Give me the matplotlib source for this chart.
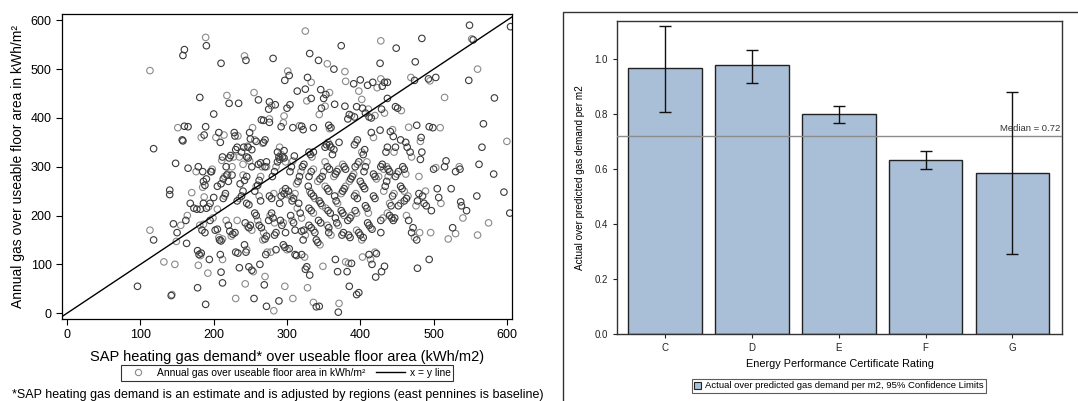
import numpy as np
import matplotlib
matplotlib.use("Agg")
import matplotlib.pyplot as plt
from matplotlib.lines import Line2D
from matplotlib.patches import Rectangle

plt.rcParams["font.family"] = ["Liberation Sans", "DejaVu Sans"]

# left panel: SAP predicted vs actual gas demand (kWh/m2)
sap_pts = [
    (113, 497), (160, 540), (158, 528), (189, 565), (190, 548), (210, 512), (242, 527), (244, 518),
    (281, 522), (325, 578), (343, 518), (331, 532), (355, 511), (374, 548), (297, 477), (301, 496),
    (303, 487), (364, 500), (379, 495), (325, 459), (328, 483), (333, 473), (346, 458), (353, 448),
    (358, 452), (391, 470), (400, 478), (398, 455), (410, 467), (417, 473), (428, 480), (433, 473),
    (430, 465), (423, 462), (437, 473), (427, 512), (428, 558), (449, 543), (475, 515), (469, 483),
    (484, 563), (493, 480), (495, 476), (503, 483), (549, 590), (552, 562), (554, 560), (548, 477),
    (560, 500), (605, 587), (583, 441), (515, 442), (474, 477),
    (181, 442), (218, 446), (221, 430), (234, 430), (255, 452), (261, 437), (249, 370), (253, 380),
    (265, 396), (276, 433), (279, 425), (284, 427), (275, 418), (276, 398), (276, 391), (292, 382),
    (296, 404), (300, 420), (304, 427), (295, 390), (314, 455), (308, 380), (317, 384), (322, 376),
    (320, 383), (327, 435), (333, 440), (336, 380), (344, 407), (347, 420), (350, 440), (352, 424),
    (357, 385), (360, 380), (358, 378), (365, 428), (379, 424), (380, 475), (383, 398), (385, 407),
    (388, 405), (392, 402), (395, 423), (402, 438), (403, 420), (407, 410), (411, 418), (412, 402),
    (415, 400), (420, 405), (427, 375), (429, 418), (433, 410), (437, 440), (441, 372), (444, 376),
    (445, 362), (451, 420), (456, 415), (455, 355), (448, 423), (466, 381), (477, 385), (483, 360),
    (482, 352), (494, 382), (499, 380), (509, 380), (568, 388), (165, 382), (151, 380), (160, 383),
    (189, 382), (183, 360), (187, 365), (200, 408), (203, 360), (207, 370), (209, 350), (214, 365),
    (228, 370), (229, 363), (233, 363), (241, 340), (238, 330), (246, 342), (250, 357), (258, 352),
    (267, 348), (268, 395), (287, 330), (290, 340), (296, 333),
    (96, 55), (113, 170), (118, 150), (118, 337), (132, 105), (140, 252), (140, 243), (143, 38),
    (142, 36), (145, 183), (147, 100), (148, 307), (150, 165), (149, 147), (157, 355), (158, 353),
    (155, 180), (163, 143), (165, 297), (164, 200), (162, 190), (168, 225), (170, 247), (173, 215),
    (177, 213), (176, 290), (179, 300), (182, 213), (181, 180), (178, 128), (180, 120), (182, 118),
    (183, 123), (178, 52), (179, 98), (185, 290), (186, 270), (185, 258), (188, 262), (190, 275),
    (187, 238), (186, 225), (190, 215), (193, 218), (195, 225), (184, 170), (186, 182), (188, 165),
    (189, 18), (192, 82), (194, 110), (195, 190), (199, 195), (200, 237), (197, 290), (205, 213),
    (202, 170), (205, 172), (207, 155), (208, 150), (210, 148), (212, 152), (210, 265), (213, 275),
    (215, 280), (218, 283), (220, 270), (211, 313), (212, 320), (213, 235), (215, 240), (216, 245),
    (209, 120), (212, 110), (210, 84), (212, 62), (217, 190), (220, 180), (222, 168), (224, 158),
    (226, 162), (229, 165), (227, 320), (225, 283), (232, 230), (235, 235), (238, 240), (240, 250),
    (232, 190), (230, 125), (233, 123), (230, 30), (235, 93), (236, 265), (240, 283), (242, 272),
    (245, 280), (240, 305), (245, 320), (247, 318), (249, 312), (252, 300), (243, 185), (246, 178),
    (248, 175), (250, 180), (252, 170), (245, 225), (248, 222), (245, 130), (244, 125), (242, 140),
    (243, 60), (248, 95), (252, 88), (254, 85), (255, 30), (256, 250), (258, 260), (260, 262),
    (262, 272), (264, 280), (256, 205), (258, 200), (260, 190), (262, 180), (265, 175), (268, 165),
    (261, 305), (264, 308), (266, 300), (270, 300), (272, 310), (262, 240), (264, 230), (263, 100),
    (267, 150), (270, 152), (272, 158), (270, 75), (269, 58), (271, 120), (273, 125), (272, 14),
    (275, 190), (277, 200), (279, 205), (281, 195), (283, 185), (276, 240), (279, 235), (282, 245),
    (280, 280), (283, 290), (285, 300), (287, 310), (289, 320), (278, 125), (283, 160), (285, 165),
    (282, 5), (285, 130), (290, 315), (292, 325), (294, 320), (296, 318), (298, 310), (290, 225),
    (292, 240), (294, 250), (296, 245), (298, 255), (300, 243), (291, 190), (293, 180), (295, 185),
    (298, 165), (289, 25), (297, 55), (295, 140), (297, 135), (300, 130), (303, 132), (302, 250),
    (305, 240), (307, 230), (309, 235), (311, 245), (304, 290), (306, 300), (308, 312), (310, 322),
    (305, 200), (307, 190), (309, 185), (311, 170), (308, 30), (311, 120), (313, 118), (313, 265),
    (315, 270), (317, 280), (319, 290), (321, 300), (323, 305), (314, 215), (316, 225), (318, 205),
    (320, 195), (320, 168), (323, 170), (325, 160), (322, 150), (320, 120), (324, 115), (325, 90),
    (327, 95), (328, 52), (330, 330), (332, 325), (334, 320), (336, 330), (329, 260), (331, 250),
    (333, 245), (336, 240), (338, 235), (330, 280), (333, 290), (336, 295), (330, 215), (333, 210),
    (336, 205), (330, 180), (333, 175), (336, 170), (338, 165), (331, 78), (336, 22), (340, 150),
    (342, 145), (345, 140), (340, 13), (344, 14), (342, 270), (345, 275), (348, 280), (350, 290),
    (344, 230), (346, 225), (348, 220), (343, 190), (346, 185), (349, 96), (352, 340), (354, 345),
    (356, 350), (358, 345), (360, 340), (352, 310), (355, 300), (358, 295), (352, 260), (355, 255),
    (357, 250), (353, 215), (356, 210), (359, 205), (355, 180), (357, 175), (357, 165), (360, 160),
    (362, 325), (364, 335), (364, 280), (366, 285), (368, 290), (370, 295), (365, 240), (367, 230),
    (369, 225), (366, 195), (368, 185), (370, 180), (366, 110), (369, 85), (371, 20), (370, 2),
    (371, 350), (374, 245), (376, 250), (378, 255), (380, 260), (374, 210), (376, 205), (378, 200),
    (375, 160), (377, 165), (376, 305), (378, 300), (380, 295), (380, 105), (382, 85), (385, 55),
    (385, 270), (387, 275), (389, 280), (391, 285), (383, 190), (386, 195), (388, 200), (384, 160),
    (386, 155), (384, 102), (388, 102), (392, 345), (394, 350), (396, 355), (392, 240), (394, 245),
    (396, 235), (393, 300), (396, 305), (398, 310), (393, 210), (395, 205), (395, 38), (398, 42),
    (395, 170), (398, 165), (400, 160), (402, 150), (404, 155), (400, 270), (402, 265), (404, 260),
    (406, 255), (402, 330), (404, 325), (406, 335), (403, 115), (405, 290), (407, 300), (409, 310),
    (407, 220), (409, 215), (411, 205), (410, 185), (412, 180), (414, 175), (416, 172), (412, 120),
    (414, 110), (416, 100), (415, 370), (418, 360), (418, 285), (420, 280), (422, 275), (418, 240),
    (420, 235), (420, 125), (422, 122), (421, 74), (425, 280), (428, 300), (430, 305), (432, 295),
    (428, 165), (428, 190), (431, 195), (429, 85), (433, 96), (432, 250), (434, 260), (436, 270),
    (438, 280), (435, 330), (437, 340), (436, 300), (438, 295), (440, 290), (437, 205), (440, 200),
    (443, 195), (440, 225), (442, 220), (444, 240), (446, 245), (445, 190), (447, 195), (446, 330),
    (448, 340), (448, 280), (450, 285), (452, 290), (452, 220), (455, 225), (455, 260), (457, 255),
    (460, 250), (458, 300), (460, 295), (462, 285), (460, 230), (463, 235), (465, 240), (462, 350),
    (464, 340), (463, 200), (466, 190), (468, 330), (470, 320), (470, 165), (472, 175), (474, 155),
    (477, 150), (478, 92), (476, 220), (478, 230), (480, 245), (480, 280), (482, 315), (484, 330),
    (481, 165), (485, 240), (487, 225), (489, 250), (490, 220), (494, 110), (496, 165), (497, 210),
    (500, 295), (503, 298), (505, 255), (507, 237), (510, 225), (517, 312), (515, 300), (520, 152),
    (524, 255), (526, 175), (530, 163), (530, 290), (536, 295), (535, 300), (537, 228), (538, 220),
    (540, 195), (545, 210), (559, 240), (560, 160), (562, 305), (566, 340), (575, 185), (582, 285),
    (596, 248), (600, 352), (604, 205),
    (196, 290), (198, 295), (205, 260), (217, 300), (219, 285), (221, 318), (223, 323), (225, 300),
    (230, 335), (232, 340), (235, 320), (247, 340), (252, 335), (256, 355), (268, 350), (270, 355),
    (272, 300),
]
sap_x = [p[0] for p in sap_pts]
actual_y = [p[1] for p in sap_pts]

# right panel: ratio by EPC rating
ratings = ["C", "D", "E", "F", "G"]
ratio = [0.97, 0.98, 0.80, 0.635, 0.585]
ci_low = [0.81, 0.915, 0.77, 0.60, 0.29]
ci_high = [1.12, 1.035, 0.83, 0.665, 0.88]
median_ratio = 0.72

W, H = 1078, 401
fig = plt.figure(figsize=(W / 100, H / 100), dpi=100)

# ---- left scatter ----
ax = fig.add_axes([62 / W, 1 - 319 / H, 450 / W, 305 / H])
xs = np.array(sap_x)
ys = np.array(actual_y)
dark = np.arange(len(xs)) % 3 != 0
ax.scatter(xs[~dark], ys[~dark], s=22, facecolors="none", edgecolors="#8a8a8a", linewidths=0.8)
ax.scatter(xs[dark], ys[dark], s=22, facecolors="none", edgecolors="#3a3a3a", linewidths=0.8)
ax.plot([-20, 620], [-20, 620], color="black", lw=1.0)
ax.set_xlim(-7, 607)
ax.set_ylim(-12, 613)
ax.set_xticks(range(0, 601, 100))
ax.set_yticks(range(0, 601, 100))
ax.tick_params(labelsize=9, length=4, width=0.8)
for s in ax.spines.values():
    s.set_linewidth(0.9)
ax.set_xlabel("SAP heating gas demand* over useable floor area (kWh/m2)", fontsize=10.5, labelpad=6)
ax.set_ylabel("Annual gas over useable floor area in kWh/m²", fontsize=10, labelpad=4)

handles = [
    Line2D([], [], marker="o", ls="none", mfc="none", mec="#8a8a8a", ms=4.5, mew=0.8),
    Line2D([], [], color="black", lw=1.0),
]
leg = fig.legend(handles, ["Annual gas over useable floor area in kWh/m²", "x = y line"],
                 loc="center", bbox_to_anchor=(287 / W, 1 - 373 / H), ncol=2, fontsize=7.4,
                 frameon=True, fancybox=False, edgecolor="black", handlelength=2.8,
                 handletextpad=0.5, columnspacing=1.0, borderpad=0.25, borderaxespad=0.2)
leg.get_frame().set_linewidth(0.8)

fig.text(12 / W, 1 - 395 / H,
         "*SAP heating gas demand is an estimate and is adjusted by regions (east pennines is baseline)",
         fontsize=9.0, ha="left", va="center")

# ---- right bar chart ----
fig.add_artist(Rectangle((563 / W, -0.01), 0.5, 1 - 12 / H + 0.01, transform=fig.transFigure,
                         fill=False, edgecolor="#333333", lw=1.0))
bx = fig.add_axes([617 / W, 1 - 334 / H, 445 / W, 313 / H])
pos = np.arange(len(ratings))
bx.bar(pos, ratio, width=0.85, color="#a9bed7", edgecolor="#222222", linewidth=1.0, zorder=2)
bx.axhline(median_ratio, color="#8c8c8c", lw=1.0, zorder=3)
err = [np.array(ratio) - np.array(ci_low), np.array(ci_high) - np.array(ratio)]
bx.errorbar(pos, ratio, yerr=err, fmt="none", ecolor="#111111", elinewidth=1.0,
            capsize=4, capthick=1.0, zorder=4)
bx.text(4.55, median_ratio + 0.012, "Median = 0.72", ha="right", va="bottom", fontsize=6.8,
        color="#333333", zorder=5)
bx.set_xlim(-0.55, 4.57)
bx.set_ylim(0, 1.14)
bx.set_yticks([0, 0.2, 0.4, 0.6, 0.8, 1.0])
bx.set_yticklabels(["0.0", "0.2", "0.4", "0.6", "0.8", "1.0"])
bx.set_xticks(pos)
bx.set_xticklabels(ratings)
bx.tick_params(labelsize=7, length=3, width=0.8, colors="#222222")
for s in bx.spines.values():
    s.set_linewidth(1.0)
    s.set_color("#333333")
bx.set_xlabel("Energy Performance Certificate Rating", fontsize=7.8, labelpad=4)
bx.set_ylabel("Actual over predicted gas demand per m2", fontsize=7.2, labelpad=7)

bh = [Rectangle((0, 0), 1, 1, facecolor="#a9bed7", edgecolor="#222222", lw=0.8)]
leg2 = fig.legend(bh, ["Actual over predicted gas demand per m2, 95% Confidence Limits"],
                  loc="center", bbox_to_anchor=(839 / W, 1 - 386 / H), fontsize=6.8,
                  frameon=True, fancybox=False, edgecolor="#333333", handlelength=0.7,
                  handleheight=0.7, handletextpad=0.4, borderpad=0.3)
leg2.get_frame().set_linewidth(0.8)

fig.savefig("out.png", dpi=100)
